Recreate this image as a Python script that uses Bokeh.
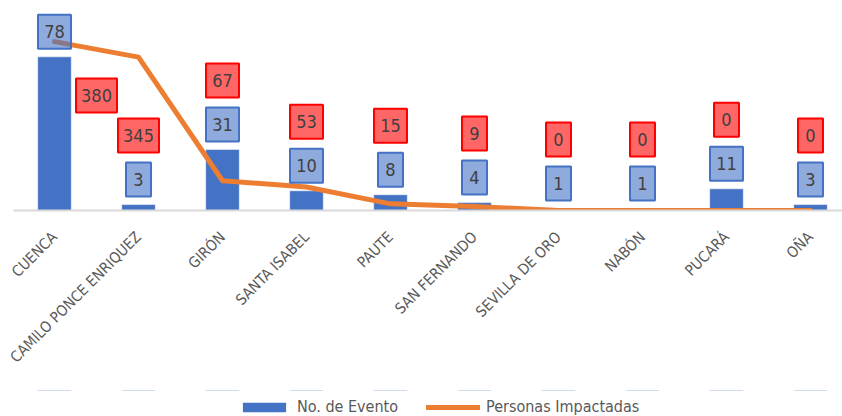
import math
from bokeh.plotting import figure
from bokeh.models import Range1d, FixedTicker, Legend
from bokeh.layouts import column
from bokeh.core.properties import value
from bokeh.embed import file_html
from bokeh.resources import INLINE

categories = ["CUENCA", "CAMILO PONCE ENRIQUEZ", "GIRÓN", "SANTA ISABEL", "PAUTE",
              "SAN FERNANDO", "SEVILLA DE ORO", "NABÓN", "PUCARÁ", "OÑA"]
eventos = [78, 3, 31, 10, 8, 4, 1, 1, 11, 3]
personas = [380, 345, 67, 53, 15, 9, 0, 0, 0, 0]
series_names = ["No. de Evento", "Personas Impactadas"]

FONT = "DejaVu Sans Condensed"
BLUE = "#4472C4"
ORANGE = "#ED7D31"

Y1_MAX = 101.5
Y2_MAX = 450
FRAME_H = 200
scale = FRAME_H / Y1_MAX  # px per primary unit

xs = list(range(len(categories)))

p = figure(width=842, height=390,
           x_range=Range1d(-0.488, 9.381), y_range=Range1d(0, Y1_MAX),
           output_backend="svg", toolbar_location=None, y_axis_location=None,
           min_border_left=13, min_border_right=0, min_border_top=10,
           min_border_bottom=180)
p.extra_y_ranges = {"sec": Range1d(0, Y2_MAX)}
p.outline_line_color = None
p.xgrid.grid_line_color = None
p.ygrid.grid_line_color = None
p.background_fill_color = "white"
p.border_fill_color = "white"

bars = p.vbar(x=xs, top=eventos, width=0.4, fill_color=BLUE, line_color="white",
              line_width=0.5)
line = p.line(xs, personas, y_range_name="sec", line_color=ORANGE, line_width=5,
              line_cap="round", line_join="round")

# data labels
blue_y = [v + 25 / scale for v in eventos]
blue_w = [17 + 8 * len(str(v)) for v in eventos]
red_x = list(xs)
red_y = [b + 44 / scale for b in blue_y]
red_w = [17 + 8 * len(str(v)) for v in personas]
# first label sits to the right of / below the line point
red_x[0] = xs[0] + 0.5
red_y[0] = personas[0] * (Y1_MAX / Y2_MAX) - 54 / scale

p.rect(xs, blue_y, width=blue_w, height=34, width_units="screen", height_units="screen",
       fill_color=BLUE, fill_alpha=0.6, line_color=BLUE, line_width=2)
p.text(xs, blue_y, text=[str(v) for v in eventos], text_align="center",
       text_baseline="middle", text_font=value(FONT), text_font_size="18px",
       text_color="#404040")
p.rect(red_x, red_y, width=red_w, height=34, width_units="screen", height_units="screen",
       fill_color="#FF0000", fill_alpha=0.6, line_color="#FF0000", line_width=2)
p.text(red_x, red_y, text=[str(v) for v in personas], text_align="center",
       text_baseline="middle", text_font=value(FONT), text_font_size="18px",
       text_color="#404040")

ax = p.xaxis[0]
ax.ticker = FixedTicker(ticks=xs)
ax.major_label_overrides = {i: c for i, c in zip(xs, categories)}
ax.major_label_orientation = math.pi / 4
ax.axis_line_color = "#D9D9D9"
ax.axis_line_width = 2
ax.major_tick_line_color = None
ax.minor_tick_line_color = None
ax.major_label_text_font = FONT
ax.major_label_text_font_size = "15px"
ax.major_label_text_color = "#595959"
ax.major_label_standoff = 18

# legend strip below the chart (series drawn again but far outside its view)
pl = figure(width=842, height=26, x_range=Range1d(-0.488, 9.381),
            y_range=Range1d(-1000, -974),
            output_backend="svg", toolbar_location=None,
            x_axis_location=None, y_axis_location=None,
            min_border_left=0, min_border_right=0, min_border_top=0, min_border_bottom=0)
pl.outline_line_color = None
pl.xgrid.grid_line_color = None
pl.ygrid.grid_line_color = None
pl.background_fill_color = "white"
leg_bar = pl.vbar(x=xs, top=eventos, width=0.4, fill_color=BLUE, line_color=None)
leg_line = pl.line(x=xs, y=personas, line_color=ORANGE, line_width=5, line_cap="round")

legend = Legend(items=[(series_names[0], [leg_bar]), (series_names[1], [leg_line])],
                location=(224, 0), orientation="horizontal")
legend.padding = 0
legend.margin = 0
legend.spacing = 28
legend.label_standoff = 6
legend.glyph_width = 54
legend.glyph_height = 12
legend.label_height = 18
legend.label_text_font = FONT
legend.label_text_font_size = "16px"
legend.label_text_color = "#595959"
legend.background_fill_alpha = 0
legend.border_line_color = None
pl.add_layout(legend)

open("out.html", "w").write(file_html(column(p, pl, spacing=0), INLINE))
